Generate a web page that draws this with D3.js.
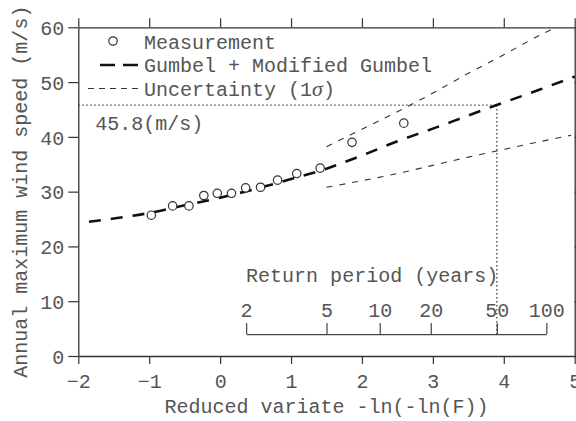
<!DOCTYPE html>
<html>
<head>
<meta charset="utf-8">
<script src="https://cdn.jsdelivr.net/npm/d3@7"></script>
<style>
  html, body { margin: 0; padding: 0; background: #fff; }
  svg { display: block; }
  text { font-family: "Liberation Mono", "DejaVu Sans Mono", monospace; font-size: 20px; fill: #555; }
</style>
</head>
<body>
<svg id="chart" width="576" height="421"></svg>
<script>
// Annual maxima plotted against reduced variate (Weibull plotting positions)
const measX = [-0.97, -0.67, -0.44, -0.23, -0.04, 0.16, 0.36, 0.57, 0.81, 1.08, 1.41, 1.86, 2.59];
const measY = [25.7, 27.4, 27.4, 29.3, 29.7, 29.7, 30.7, 30.8, 32.1, 33.3, 34.3, 39.0, 42.5];

// Fitted curve: Gumbel + Modified Gumbel
const fitX = [-1.85, -1.5, -1.0, -0.5, 0.0, 0.5, 1.0, 1.5, 2.0, 2.5, 3.0, 3.5, 3.9, 4.5, 5.0];
const fitY = [24.5, 25.1, 26.1, 27.5, 28.9, 30.5, 32.3, 34.2, 36.6, 39.2, 41.5, 43.9, 45.8, 48.6, 51.0];

// 1-sigma uncertainty band
const upX = [1.5, 2.0, 2.5, 3.0, 3.5, 4.0, 4.5, 4.7];
const upY = [38.2, 41.4, 44.6, 48.0, 51.6, 55.0, 58.5, 59.8];
const loX = [1.5, 2.0, 2.5, 3.0, 3.5, 4.0, 4.5, 4.95];
const loY = [30.8, 32.0, 33.3, 34.8, 36.3, 37.7, 39.1, 40.3];

// Axis ticks
const xTicks = [-2, -1, 0, 1, 2, 3, 4, 5];
const yTicks = [0, 10, 20, 30, 40, 50, 60];
const returnPeriods = [2, 5, 10, 20, 50, 100];

// Design wind speed for the 50-year return period
const designT = 50;
const designSpeed = 45.8;
const returnAxisLevel = 4;

const svg = d3.select("#chart");
const x = d3.scaleLinear().domain([-2, 5]).range([78.3, 574.7]);
const y = d3.scaleLinear().domain([0, 60]).range([356, 27.3]);

// reduced variate for a return period T
const rv = T => -Math.log(-Math.log(1 - 1 / T));

const frame = "#333";
const textFill = "#555";

function styleAxis(g) {
  g.selectAll(".domain").attr("stroke", frame).attr("stroke-width", 1.3);
  g.selectAll(".tick line").attr("stroke", frame).attr("stroke-width", 1.2);
  g.selectAll("text").attr("font-family", null).attr("font-size", null).attr("fill", textFill);
}

// frame axes
svg.append("g").attr("transform", `translate(0,${y(0)})`)
  .call(d3.axisBottom(x).tickValues(xTicks).tickSize(8).tickSizeOuter(0).tickPadding(6)
    .tickFormat(d => d < 0 ? "\u2212" + Math.abs(d) : d))
  .call(styleAxis)
  .selectAll("text").attr("dy", "0.92em");

svg.append("g").attr("transform", `translate(0,${y(60)})`)
  .call(d3.axisTop(x).tickValues(xTicks).tickSize(9).tickSizeOuter(0).tickFormat(""))
  .call(styleAxis);

svg.append("g").attr("transform", `translate(${x(-2)},0)`)
  .call(d3.axisLeft(y).tickValues(yTicks).tickSize(10).tickSizeOuter(0).tickPadding(4))
  .call(styleAxis)
  .selectAll("text").attr("dy", "0.36em");

svg.append("g").attr("transform", `translate(${x(5)},0)`)
  .call(d3.axisRight(y).tickValues(yTicks).tickSize(8).tickSizeOuter(0).tickFormat(""))
  .call(styleAxis);

// axis titles
svg.append("text")
  .attr("x", (x(-2) + x(5)) / 2).attr("y", 413)
  .attr("text-anchor", "middle")
  .text("Reduced variate -ln(-ln(F))");

svg.append("text")
  .attr("transform", `translate(27,${(y(0) + y(60)) / 2}) rotate(-90)`)
  .attr("text-anchor", "middle")
  .text("Annual maximum wind speed (m/s)");

// return period axis
const rvScale = d3.scaleLinear()
  .domain([rv(2), rv(100)])
  .range([x(rv(2)), x(rv(100))]);
const retG = svg.append("g").attr("transform", `translate(0,${y(returnAxisLevel)})`)
  .call(d3.axisTop(rvScale)
    .tickValues(returnPeriods.map(rv))
    .tickFormat((d, i) => returnPeriods[i])
    .tickSize(11).tickSizeOuter(0).tickPadding(6));
retG.selectAll(".domain").attr("stroke", "#444").attr("stroke-width", 1.2);
retG.selectAll(".tick line").attr("stroke", "#444").attr("stroke-width", 1.2);
retG.selectAll("text").attr("font-family", null).attr("font-size", null).attr("fill", textFill);

svg.append("text")
  .attr("x", x(rv(2))).attr("y", y(13.55))
  .text("Return period (years)");

// design value guides
const dotted = "1.3,2.7";
svg.append("line")
  .attr("x1", x(-2)).attr("x2", x(rv(designT)))
  .attr("y1", y(designSpeed)).attr("y2", y(designSpeed))
  .attr("stroke", "#333").attr("stroke-width", 1.1).attr("stroke-dasharray", dotted);
svg.append("line")
  .attr("x1", x(rv(designT))).attr("x2", x(rv(designT)))
  .attr("y1", y(designSpeed)).attr("y2", y(returnAxisLevel))
  .attr("stroke", "#222").attr("stroke-width", 1.1).attr("stroke-dasharray", dotted);
svg.append("text")
  .attr("x", x(-2) + 17).attr("y", y(designSpeed) + 24.5)
  .text(designSpeed.toFixed(1) + "(m/s)");

// curves
const line = d3.line().x(d => x(d[0])).y(d => y(d[1])).curve(d3.curveMonotoneX);
const zip = (a, b) => a.map((v, i) => [v, b[i]]);

svg.append("path").datum(zip(upX, upY))
  .attr("d", line).attr("fill", "none")
  .attr("stroke", "#333").attr("stroke-width", 1.1).attr("stroke-dasharray", "6,7");
svg.append("path").datum(zip(loX, loY))
  .attr("d", line).attr("fill", "none")
  .attr("stroke", "#333").attr("stroke-width", 1.1).attr("stroke-dasharray", "6,7");
svg.append("path").datum(zip(fitX, fitY))
  .attr("d", line).attr("fill", "none")
  .attr("stroke", "#111").attr("stroke-width", 2.6).attr("stroke-dasharray", "12,10");

// measurements
svg.append("g").selectAll("circle")
  .data(zip(measX, measY))
  .join("circle")
  .attr("cx", d => x(d[0])).attr("cy", d => y(d[1]))
  .attr("r", 4.2)
  .attr("fill", "#fff").attr("stroke", "#333").attr("stroke-width", 1.2);

// legend
const lg = svg.append("g");
lg.append("circle").attr("cx", 113).attr("cy", 41).attr("r", 4.2)
  .attr("fill", "#fff").attr("stroke", "#333").attr("stroke-width", 1.2);
lg.append("text").attr("x", 144).attr("y", 48.5).text("Measurement");

lg.append("line").attr("x1", 100).attr("x2", 138).attr("y1", 65).attr("y2", 65)
  .attr("stroke", "#111").attr("stroke-width", 2.6).attr("stroke-dasharray", "15,8");
lg.append("text").attr("x", 144).attr("y", 72).text("Gumbel + Modified Gumbel");

lg.append("line").attr("x1", 88).attr("x2", 142).attr("y1", 88.5).attr("y2", 88.5)
  .attr("stroke", "#333").attr("stroke-width", 1.1).attr("stroke-dasharray", "6,5");
const ut = lg.append("text").attr("x", 144).attr("y", 96);
ut.append("tspan").text("Uncertainty (1");
ut.append("tspan").attr("font-family", "Liberation Serif").attr("font-style", "italic")
  .attr("font-size", "22px").text("\u03c3");
ut.append("tspan").text(")");
</script>
</body>
</html>
